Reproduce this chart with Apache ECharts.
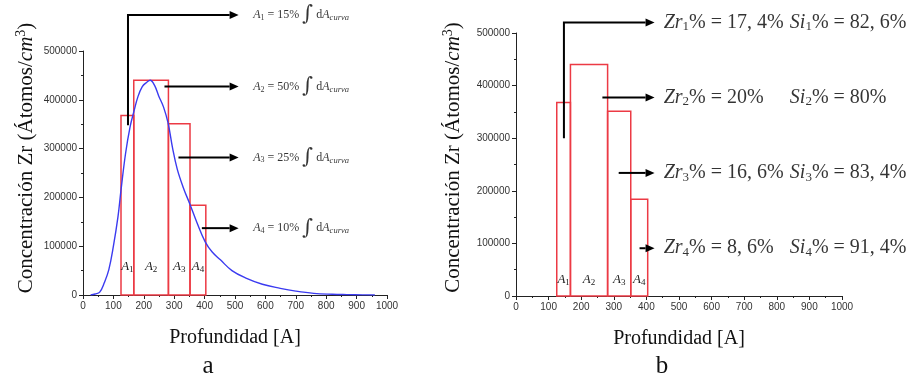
<!DOCTYPE html>
<html>
<head>
<meta charset="utf-8">
<script src="https://cdn.jsdelivr.net/npm/echarts@6/dist/echarts.min.js"></script>
<style>
  html, body { margin: 0; padding: 0; background: #fff; }
  #chart { width: 910px; height: 379px; }
</style>
</head>
<body>
<div id="chart"></div>
<script>
// Zr depth profile (panel a)
const depth  = [25, 40, 55, 70, 85, 100, 115, 125, 140, 155, 167, 180, 195, 210, 221, 235, 249, 265, 280, 295, 310, 330, 353, 375, 402, 425, 452, 490, 538, 590, 649, 700, 759, 820, 868, 920, 960];
const zrConc = [0, 2000, 6000, 25000, 52000, 100000, 160000, 215000, 290000, 345000, 375000, 405000, 427000, 436000, 440000, 430000, 408000, 385000, 352000, 300000, 258000, 220000, 184000, 148000, 109000, 88000, 72000, 50000, 34000, 22000, 13700, 8000, 3400, 1500, 800, 300, 0];

// Depth bins A1..A4 and their mean concentration
const binEdges   = [125, 167, 281, 352, 404];
const binHeights = [368000, 440000, 351000, 184000];
const binNames   = ['1', '2', '3', '4'];

// Shares quoted in the notes
const areaShare = ['15%', '50%', '25%', '10%'];
const zrShare   = ['17, 4%', '20%', '16, 6%', '8, 6%'];
const siShare   = ['82, 6%', '80%', '83, 4%', '91, 4%'];

// Axis ranges / ticks
const xMin = 0, xMax = 1000, xStep = 100;
const yMin = 0, yMax = 500000, yStep = 100000;

// Arrow paths and note anchors (data units)
const arrowsA = [
  [[148, 348000], [148, 574000], [512, 574000]],
  [[268, 427000], [512, 427000]],
  [[314, 282000], [512, 282000]],
  [[391, 137000], [512, 137000]]
];
const notesA = [[560, 574000], [560, 427000], [560, 282000], [560, 137000]];

const arrowsB = [
  [[147, 300000], [147, 520000], [425, 520000]],
  [[265, 377400], [425, 377400]],
  [[315, 234000], [425, 234000]],
  [[379, 90800], [425, 90800]]
];
const notesZr = [[453, 520000], [453, 377400], [453, 234000], [453, 90800]];
const notesSi = [[840, 520000], [840, 377400], [840, 234000], [840, 90800]];

const SERIF = '"Liberation Serif", "DejaVu Serif", serif';
const SANS = '"Liberation Sans", Arial, sans-serif';

const chart = echarts.init(document.getElementById('chart'));

function xAxisCfg(gridIndex) {
  return {
    type: 'value', gridIndex, min: xMin, max: xMax, interval: xStep,
    name: 'Profundidad [A]', nameLocation: 'middle', nameGap: 33,
    nameTextStyle: { fontFamily: SERIF, fontSize: 20, color: '#111' },
    axisLine: { lineStyle: { color: '#222', width: 1 } },
    axisTick: { length: 4, lineStyle: { color: '#222' } },
    minorTick: { show: true, splitNumber: 2, length: 2, lineStyle: { color: '#222' } },
    axisLabel: { fontFamily: SANS, fontSize: 10, color: '#333', margin: 6, formatter: v => String(v) },
    splitLine: { show: false }
  };
}
function yAxisCfg(gridIndex, gap, lift) {
  return {
    type: 'value', gridIndex, min: yMin, max: yMax, interval: yStep,
    name: '{n|Concentración Zr (Átomos/}{i|cm}{sp|3}{n|)}',
    nameLocation: 'middle', nameGap: gap, nameRotate: 90,
    nameTextStyle: {
      padding: [0, 0, 0, lift],
      rich: {
        n: { fontFamily: SERIF, fontSize: 21, color: '#111' },
        i: { fontFamily: SERIF, fontSize: 21, fontStyle: 'italic', color: '#111' },
        sp: { fontFamily: SERIF, fontSize: 14, color: '#111', padding: [0, 0, 10, 0] }
      }
    },
    axisLine: { show: true, lineStyle: { color: '#222', width: 1 } },
    axisTick: { show: true, length: 4, lineStyle: { color: '#222' } },
    minorTick: { show: true, splitNumber: 2, length: 2, lineStyle: { color: '#222' } },
    axisLabel: { fontFamily: SANS, fontSize: 10, color: '#333', margin: 6, formatter: v => String(v) },
    splitLine: { show: false }
  };
}

function binSeries(idx, labelLift) {
  return {
    type: 'custom', xAxisIndex: idx, yAxisIndex: idx, clip: false, z: 3,
    data: binHeights.map((h, i) => [binEdges[i], binEdges[i + 1], h]),
    encode: { x: [0, 1], y: 2 },
    renderItem(params, api) {
      const tl = api.coord([api.value(0), api.value(2)]);
      const br = api.coord([api.value(1), 0]);
      return {
        type: 'group',
        children: [
          {
            type: 'rect',
            shape: { x: tl[0], y: tl[1], width: br[0] - tl[0], height: br[1] - tl[1] },
            style: { fill: null, stroke: '#ec3a44', lineWidth: 1.5 }
          },
          {
            type: 'text',
            x: (tl[0] + br[0]) / 2, y: br[1] - labelLift,
            style: {
              text: '{i|A}{s|' + binNames[params.dataIndex] + '}',
              align: 'center', verticalAlign: 'middle',
              rich: {
                i: { fontFamily: SERIF, fontSize: 13, fontStyle: 'italic', fill: '#222' },
                s: { fontFamily: SERIF, fontSize: 9, fill: '#222', padding: [6, 0, 0, 0] }
              }
            }
          }
        ]
      };
    }
  };
}

function arrowSeries(idx, paths) {
  return {
    type: 'custom', xAxisIndex: idx, yAxisIndex: idx, clip: false, z: 5,
    data: paths.map(p => p[0]),
    renderItem(params, api) {
      const pts = paths[params.dataIndex].map(p => api.coord(p));
      const a = pts[pts.length - 2], b = pts[pts.length - 1];
      const ang = Math.atan2(b[1] - a[1], b[0] - a[0]);
      const L = 9, W = 4;
      const c = Math.cos(ang), s = Math.sin(ang);
      const base = [b[0] - L * c, b[1] - L * s];
      const line = pts.slice(0, -1).concat([base]);
      return {
        type: 'group',
        children: [
          { type: 'polyline', shape: { points: line },
            style: { stroke: '#000', lineWidth: 2, fill: null, lineJoin: 'miter' } },
          { type: 'polygon',
            shape: { points: [b, [base[0] - W * s, base[1] + W * c], [base[0] + W * s, base[1] - W * c]] },
            style: { fill: '#000' } }
        ]
      };
    }
  };
}

function noteSeries(idx, anchors, formatter, rich) {
  return {
    type: 'scatter', xAxisIndex: idx, yAxisIndex: idx, clip: false, z: 6,
    symbolSize: 0, itemStyle: { color: 'transparent' }, silent: true,
    data: anchors,
    label: {
      show: true, position: 'right', distance: 0, color: '#000',
      formatter: p => formatter(p.dataIndex), rich
    }
  };
}

const richA = {
  n: { fontFamily: SERIF, fontSize: 12, color: '#000' },
  i: { fontFamily: SERIF, fontSize: 12, fontStyle: 'italic', color: '#000' },
  s: { fontFamily: SERIF, fontSize: 8, color: '#000', padding: [6, 0, 0, 0] },
  si: { fontFamily: SERIF, fontSize: 8.5, fontStyle: 'italic', color: '#000', padding: [6, 0, 0, 0] },
  g: { fontFamily: '"DejaVu Serif", serif', fontSize: 21, color: '#000' }
};
const richB = {
  n: { fontFamily: SERIF, fontSize: 20, color: '#000' },
  i: { fontFamily: SERIF, fontSize: 20, fontStyle: 'italic', color: '#000' },
  s: { fontFamily: SERIF, fontSize: 13, color: '#000', padding: [9, 0, 0, 0] }
};

chart.setOption({
  animation: false,
  backgroundColor: '#fff',
  grid: [
    { left: 83, top: 51, width: 304, height: 244 },
    { left: 516, top: 33, width: 326, height: 263 }
  ],
  xAxis: [xAxisCfg(0), xAxisCfg(1)],
  yAxis: [yAxisCfg(0, 45, 30), yAxisCfg(1, 51, 14)],
  graphic: [
    { type: 'text', x: 208, y: 366, style: { text: 'a', align: 'center', verticalAlign: 'middle', font: '25px "Liberation Serif"', fill: '#111' } },
    { type: 'text', x: 662, y: 366, style: { text: 'b', align: 'center', verticalAlign: 'middle', font: '25px "Liberation Serif"', fill: '#111' } }
  ],
  series: [
    binSeries(0, 28),
    {
      type: 'line', xAxisIndex: 0, yAxisIndex: 0, z: 4,
      data: depth.map((d, i) => [d, zrConc[i]]),
      showSymbol: false, smooth: 0.4,
      lineStyle: { color: '#3b3bf0', width: 1.4 }
    },
    arrowSeries(0, arrowsA),
    noteSeries(0, notesA,
      i => '{i|A}{s|' + (i + 1) + '}{n| = ' + areaShare[i] + ' }{g|∫}{n| d}{i|A}{si|curva}', richA),
    binSeries(1, 16),
    arrowSeries(1, arrowsB),
    noteSeries(1, notesZr, i => '{i|Zr}{s|' + (i + 1) + '}{n|% = ' + zrShare[i] + '}', richB),
    noteSeries(1, notesSi, i => '{i|Si}{s|' + (i + 1) + '}{n|% = ' + siShare[i] + '}', richB)
  ]
});
</script>
</body>
</html>
